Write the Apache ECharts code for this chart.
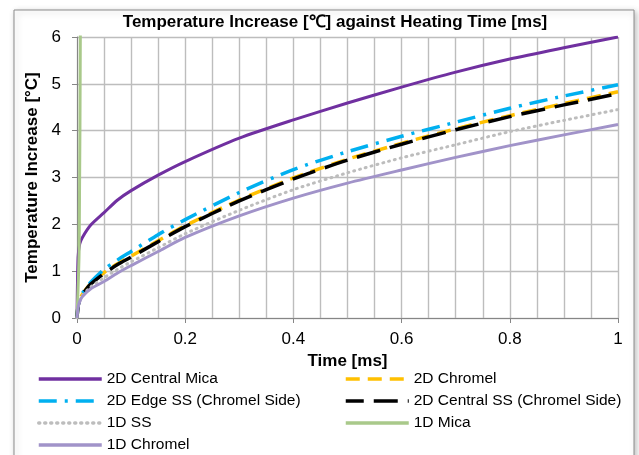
<!DOCTYPE html>
<html>
<head>
<meta charset="utf-8">
<script src="https://cdn.jsdelivr.net/npm/echarts@6/dist/echarts.min.js"></script>
<style>
  html, body { margin: 0; padding: 0; background: #fff; }
  #chart { width: 639px; height: 455px; }
</style>
</head>
<body>
<div id="chart"></div>
<script>
// sample times [ms], shared by the 2D / 1D curves
const timeMs = [0, 0.002, 0.005, 0.01, 0.025, 0.05, 0.075, 0.1, 0.15, 0.2, 0.3, 0.4, 0.5, 0.6, 0.7, 0.8, 0.9, 1.0];
const centralMica2D = [0, 1.3, 1.58, 1.72, 1.98, 2.25, 2.52, 2.72, 3.05, 3.34, 3.84, 4.23, 4.59, 4.93, 5.25, 5.53, 5.77, 6.0];
const chromel2D = [0, 0.25, 0.39, 0.51, 0.73, 0.97, 1.16, 1.32, 1.65, 1.97, 2.52, 2.99, 3.39, 3.73, 4.04, 4.32, 4.58, 4.83];
const edgeSS2D = [0, 0.26, 0.41, 0.53, 0.76, 1.04, 1.24, 1.42, 1.78, 2.1, 2.68, 3.17, 3.55, 3.88, 4.18, 4.48, 4.74, 4.98];
const centralSS2D = [0, 0.25, 0.38, 0.5, 0.72, 0.95, 1.14, 1.3, 1.63, 1.95, 2.5, 2.97, 3.37, 3.71, 4.02, 4.3, 4.55, 4.79];
const ss1D = [0, 0.24, 0.37, 0.48, 0.66, 0.86, 1.04, 1.2, 1.5, 1.8, 2.3, 2.74, 3.1, 3.42, 3.7, 3.98, 4.22, 4.45];
const chromel1D = [0, 0.22, 0.35, 0.46, 0.62, 0.78, 0.96, 1.12, 1.42, 1.72, 2.18, 2.56, 2.88, 3.16, 3.43, 3.68, 3.91, 4.13];
// 1D Mica shoots off the top almost at once
const micaTime1D = [0, 0.004, 0.0065];
const mica1D = [0, 1.5, 7];

const leftNames = ["2D Central Mica", "2D Edge SS (Chromel Side)", "1D SS", "1D Chromel"];
const rightNames = ["2D Chromel", "2D Central SS (Chromel Side)", "1D Mica"];

const pairs = (xs, ys) => xs.map((x, i) => [x, ys[i]]);

const chart = echarts.init(document.getElementById("chart"));

function lineSeries(name, data, style) {
  return {
    name: name,
    type: "line",
    data: data,
    symbol: "none",
    smooth: 0.25,
    clip: true,
    lineStyle: style,
    itemStyle: { color: style.color },
  };
}

const legendBase = {
  orient: "vertical",
  top: 371,
  height: 100,
  padding: 0,
  itemWidth: 63,
  itemHeight: 14,
  itemGap: 6,
  itemStyle: { opacity: 0 },
  lineStyle: { width: 3.5 },
  textStyle: { fontFamily: "Liberation Sans", fontSize: 15.5, lineHeight: 14, color: "#000" },
};

const option = {
  backgroundColor: "#fff",
  animation: false,
  title: {
    text: "Temperature Increase [℃] against Heating Time [ms]",
    left: 330,
    textAlign: "center",
    top: 9,
    textStyle: { fontFamily: "Liberation Sans", fontSize: 17, fontWeight: "bold", color: "#000" },
  },
  graphic: [
    {
      type: "rect",
      z: -10,
      shape: { x: 14, y: 10, width: 620, height: 460 },
      style: {
        fill: "#fff",
        stroke: "#8c8c8c",
        lineWidth: 1,
        shadowBlur: 6,
        shadowColor: "rgba(0,0,0,0.25)",
        shadowOffsetX: 2,
        shadowOffsetY: 2,
      },
    },
  ],
  grid: { left: 77, right: 21, top: 37, bottom: 137 },
  legend: [
    Object.assign({}, legendBase, { left: 37, data: leftNames }),
    Object.assign({}, legendBase, { left: 344, data: rightNames }),
  ],
  xAxis: {
    type: "value",
    min: 0,
    max: 1,
    interval: 0.2,
    name: "Time [ms]",
    nameLocation: "middle",
    nameGap: 31,
    nameTextStyle: { fontFamily: "Liberation Sans", fontSize: 17, fontWeight: "bold", color: "#000" },
    axisLine: { show: true, lineStyle: { color: "#868686", width: 1 } },
    axisTick: { show: true, inside: false, length: 5, lineStyle: { color: "#868686" } },
    minorTick: { show: false, splitNumber: 4 },
    axisLabel: {
      margin: 13,
      fontFamily: "Liberation Sans",
      fontSize: 17,
      color: "#000",
      formatter: (v) => String(Math.round(v * 10) / 10),
    },
    splitLine: { show: true, lineStyle: { color: "#bdbdbd", width: 1.4 } },
    minorSplitLine: { show: true, lineStyle: { color: "#bdbdbd", width: 1.4 } },
  },
  yAxis: {
    type: "value",
    min: 0,
    max: 6,
    interval: 1,
    name: "Temperature Increase [°C]",
    nameLocation: "middle",
    nameGap: 32,
    nameTextStyle: { fontFamily: "Liberation Sans", fontSize: 17, fontWeight: "bold", color: "#000" },
    axisLine: { show: true, lineStyle: { color: "#868686", width: 1 } },
    axisTick: { show: true, inside: false, length: 5, lineStyle: { color: "#868686" } },
    axisLabel: { margin: 16, fontFamily: "Liberation Sans", fontSize: 17, color: "#000" },
    splitLine: { show: true, lineStyle: { color: "#bdbdbd", width: 1.4 } },
  },
  series: [
    lineSeries("2D Central Mica", pairs(timeMs, centralMica2D), { color: "#7030A0", width: 3 }),
    lineSeries("2D Chromel", pairs(timeMs, chromel2D), { color: "#FFC000", width: 3.5, type: [14, 8] }),
    lineSeries("2D Edge SS (Chromel Side)", pairs(timeMs, edgeSS2D), { color: "#00B0F0", width: 3.5, type: [18, 8, 3, 8] }),
    lineSeries("2D Central SS (Chromel Side)", pairs(timeMs, centralSS2D), { color: "#000000", width: 3.5, type: [24, 10], dashOffset: 6 }),
    lineSeries("1D SS", pairs(timeMs, ss1D), { color: "#BDBDBD", width: 3, type: [1, 5], cap: "round" }),
    lineSeries("1D Mica", pairs(micaTime1D, mica1D), { color: "#A9C98A", width: 3 }),
    lineSeries("1D Chromel", pairs(timeMs, chromel1D), { color: "#A193C9", width: 3 }),
  ],
};

chart.setOption(option);
</script>
</body>
</html>
